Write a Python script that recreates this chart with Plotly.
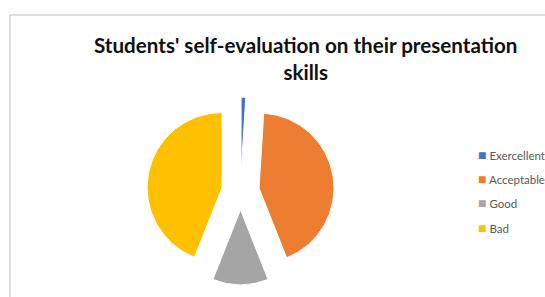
import plotly.graph_objects as go

categories = ["Exercellent", "Acceptable", "Good", "Bad"]
values = [1, 43, 12, 44]
colors = ["#4472C4", "#ED7D31", "#A5A5A5", "#FFC000"]
title_lines = ["Students' self-evaluation on their presentation", "skills"]

W, H = 545, 297
cx, cy = 240.5, 191
r = 75
pull = 0.25
half = r * (1 + pull)
FONT = "Lato, Noto Sans, sans-serif"

fig = go.Figure(go.Pie(
    labels=categories,
    values=values,
    marker=dict(colors=colors, line=dict(color="white", width=1)),
    pull=[pull] * 4,
    sort=False,
    direction="clockwise",
    rotation=0,
    textinfo="none",
    hoverinfo="label+value",
    showlegend=False,
    domain=dict(x=[(cx - half) / W, (cx + half) / W],
                y=[(H - cy - half) / H, (H - cy + half) / H]),
))

annotations = [dict(
    text="<b>" + "<br>".join(title_lines) + "</b>",
    xref="paper", yref="paper", x=305 / W, y=1 - 31 / H,
    xanchor="center", yanchor="top", showarrow=False, align="center",
    font=dict(family=FONT, size=20.6, color="#111111"),
)]

legend_y = [154, 178, 202, 227]
for cat, col, ly in zip(categories, colors, legend_y):
    annotations.append(dict(
        text='<span style="color:%s;font-size:14px">■</span> %s' % (col, cat),
        xref="paper", yref="paper", x=476 / W, y=1 - ly / H,
        xanchor="left", yanchor="middle", showarrow=False, align="left",
        font=dict(family=FONT, size=11.5, color="#595959"),
    ))

fig.update_layout(
    width=W, height=H,
    margin=dict(l=0, r=0, t=0, b=0, autoexpand=False),
    paper_bgcolor="white",
    annotations=annotations,
    shapes=[
        dict(type="line", xref="paper", yref="paper", x0=10 / W, x1=1, y0=1 - 15 / H, y1=1 - 15 / H,
             line=dict(color="#BFBFBF", width=1)),
        dict(type="line", xref="paper", yref="paper", x0=10 / W, x1=10 / W, y0=0, y1=1 - 15 / H,
             line=dict(color="#BFBFBF", width=1)),
    ],
)

fig.write_html("out.html", config={"displayModeBar": False},
               post_script="document.body.style.margin='0px';")
